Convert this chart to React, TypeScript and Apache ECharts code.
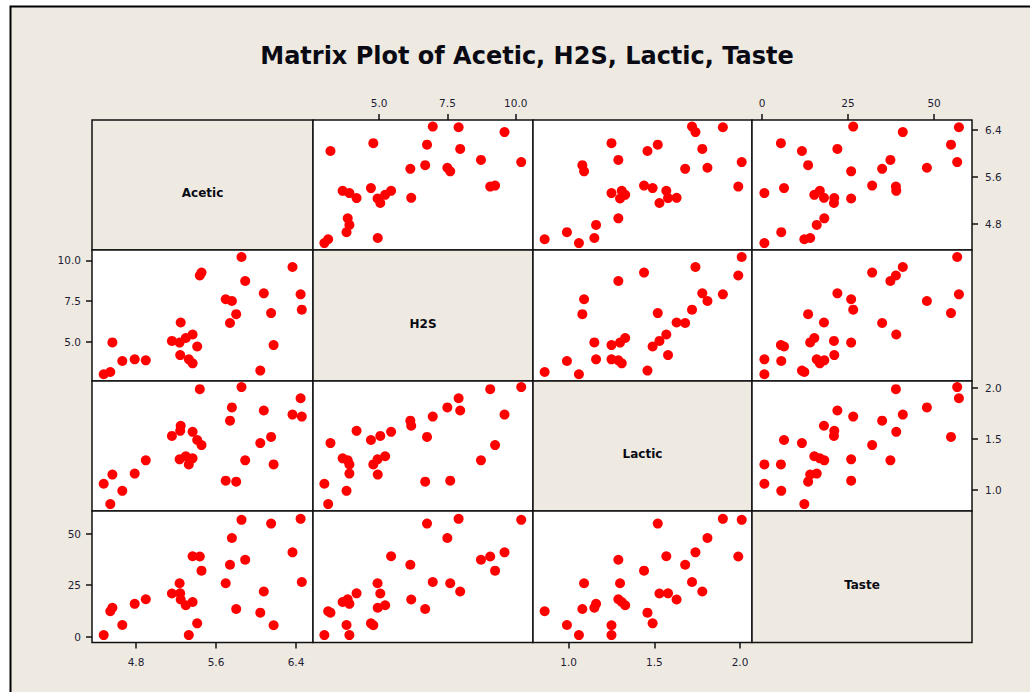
import React, { useEffect, useRef } from "react";
import * as echarts from "echarts";

// ---- data (cheese data, 30 samples) ----
const variables = ["Acetic", "H2S", "Lactic", "Taste"];
const acetic = [4.543, 5.159, 5.366, 5.759, 4.663, 5.697, 5.892, 6.078, 4.898, 5.242, 5.74, 6.446, 4.477, 5.236, 6.151, 6.365, 4.787, 5.412, 5.247, 5.438, 4.564, 5.298, 5.455, 5.855, 5.366, 6.043, 6.458, 5.328, 5.802, 6.176];
const h2s = [3.135, 5.043, 5.438, 7.496, 3.807, 7.601, 8.726, 7.966, 3.85, 4.174, 6.142, 7.908, 2.996, 4.942, 6.752, 9.588, 3.912, 4.7, 6.174, 9.064, 4.949, 5.22, 9.242, 10.199, 3.664, 3.219, 6.962, 3.912, 6.685, 4.787];
const lactic = [0.86, 1.53, 1.57, 1.81, 0.99, 1.09, 1.29, 1.78, 1.29, 1.58, 1.68, 1.9, 1.06, 1.3, 1.52, 1.74, 1.16, 1.49, 1.63, 1.99, 1.15, 1.33, 1.44, 2.01, 1.31, 1.46, 1.72, 1.25, 1.08, 1.25];
const taste = [12.3, 20.9, 39.0, 47.9, 5.6, 25.9, 37.3, 21.9, 18.1, 21.0, 34.9, 57.2, 0.7, 25.9, 54.9, 40.9, 15.9, 6.4, 18.0, 38.9, 14.0, 15.2, 32.0, 56.7, 16.8, 11.6, 26.5, 0.7, 13.4, 5.5];

// tick labels
const aceticTicks = [4.8, 5.6, 6.4];
const h2sTicks = [5.0, 7.5, 10.0];
const lacticTicks = [1.0, 1.5, 2.0];
const tasteTicks = [0, 25, 50];

// axis ranges
const aceticRange = [4.36, 6.57];
const h2sRange = [2.58, 10.63];
const lacticRange = [0.792, 2.07];
const tasteRange = [-2.9, 61.0];

const TITLE = "Matrix Plot of Acetic, H2S, Lactic, Taste";

export default function App() {
  const ref = useRef<HTMLDivElement>(null);

  useEffect(() => {
    if (!ref.current) return;
    const chart = echarts.init(ref.current, undefined, { renderer: "svg" });

    const values = [acetic, h2s, lactic, taste];
    const ticks = [aceticTicks, h2sTicks, lacticTicks, tasteTicks];
    const ranges = [aceticRange, h2sRange, lacticRange, tasteRange];
    const fmt = [
      (v: number) => v.toFixed(1),
      (v: number) => v.toFixed(1),
      (v: number) => v.toFixed(1),
      (v: number) => String(Math.round(v)),
    ];

    const colEdges = [92, 313, 533, 752, 972];
    const rowEdges = [120, 250, 381, 511, 642.5];
    const beige = "#EEEAE1";
    const fontFamily = "Tahoma, 'DejaVu Sans', sans-serif";
    const labelColor = "#1d1d36";

    const grids: any[] = [];
    const xAxes: any[] = [];
    const yAxes: any[] = [];
    const series: any[] = [];
    const graphics: any[] = [
      {
        type: "rect",
        z: -10,
        shape: { x: 10.5, y: 6.5, width: 1040, height: 700 },
        style: { fill: beige, stroke: "#000", lineWidth: 2 },
      },
      {
        type: "text",
        z: 100,
        x: 527,
        y: 56,
        style: {
          text: TITLE,
          fill: "#0a0a14",
          font: "bold 24px " + fontFamily,
          textAlign: "center",
          textVerticalAlign: "middle",
        },
      },
    ];

    const axisCommon = (k: number, idx: number, show: boolean, position: string, margin: number) => ({
      gridIndex: k,
      type: "value",
      min: ranges[idx][0],
      max: ranges[idx][1],
      show,
      position,
      axisLine: { show: false, onZero: false },
      axisTick: {
        show: true,
        inside: false,
        length: 6,
        customValues: ticks[idx],
        lineStyle: { color: "#111", width: 1.5 },
      },
      axisLabel: {
        show: true,
        customValues: ticks[idx],
        formatter: fmt[idx],
        margin,
        color: labelColor,
        fontSize: 10.5,
        fontFamily,
      },
      splitLine: { show: false },
    });

    let k = 0;
    for (let r = 0; r < 4; r++) {
      for (let c = 0; c < 4; c++) {
        const diag = r === c;
        grids.push({
          show: true,
          left: colEdges[c],
          top: rowEdges[r],
          width: colEdges[c + 1] - colEdges[c],
          height: rowEdges[r + 1] - rowEdges[r],
          backgroundColor: diag ? beige : "#ffffff",
          borderColor: "#111",
          borderWidth: 1.5,
          z: 2,
        });
        const showTop = r === 0 && c % 2 === 1;
        const showBottom = r === 3 && c % 2 === 0;
        const showLeft = c === 0 && r % 2 === 1;
        const showRight = c === 3 && r % 2 === 0;
        xAxes.push(
          axisCommon(k, c, !diag && (showTop || showBottom), showTop ? "top" : "bottom", showTop ? 12 : 14)
        );
        yAxes.push(
          axisCommon(k, r, !diag && (showLeft || showRight), showRight ? "right" : "left", showRight ? 13 : 11)
        );
        if (diag) {
          graphics.push({
            type: "text",
            z: 100,
            x: (colEdges[c] + colEdges[c + 1]) / 2,
            y: (rowEdges[r] + rowEdges[r + 1]) / 2 + 8,
            style: {
              text: variables[r],
              fill: "#0a0a14",
              font: "bold 12px " + fontFamily,
              textAlign: "center",
              textVerticalAlign: "middle",
            },
          });
        } else {
          const xs = values[c];
          const ys = values[r];
          series.push({
            type: "scatter",
            xAxisIndex: k,
            yAxisIndex: k,
            symbol: "circle",
            symbolSize: 10,
            itemStyle: { color: "#ff0000", opacity: 1 },
            data: xs.map((x, i) => [x, ys[i]]),
            z: 5,
          });
        }
        k++;
      }
    }

    chart.setOption({
      animation: false,
      backgroundColor: "#ffffff",
      grid: grids,
      xAxis: xAxes,
      yAxis: yAxes,
      series,
      graphic: graphics,
    });

    return () => chart.dispose();
  }, []);

  return (
    <div
      ref={ref}
      style={{ position: "fixed", left: 0, top: 0, width: 1030, height: 692 }}
    />
  );
}
